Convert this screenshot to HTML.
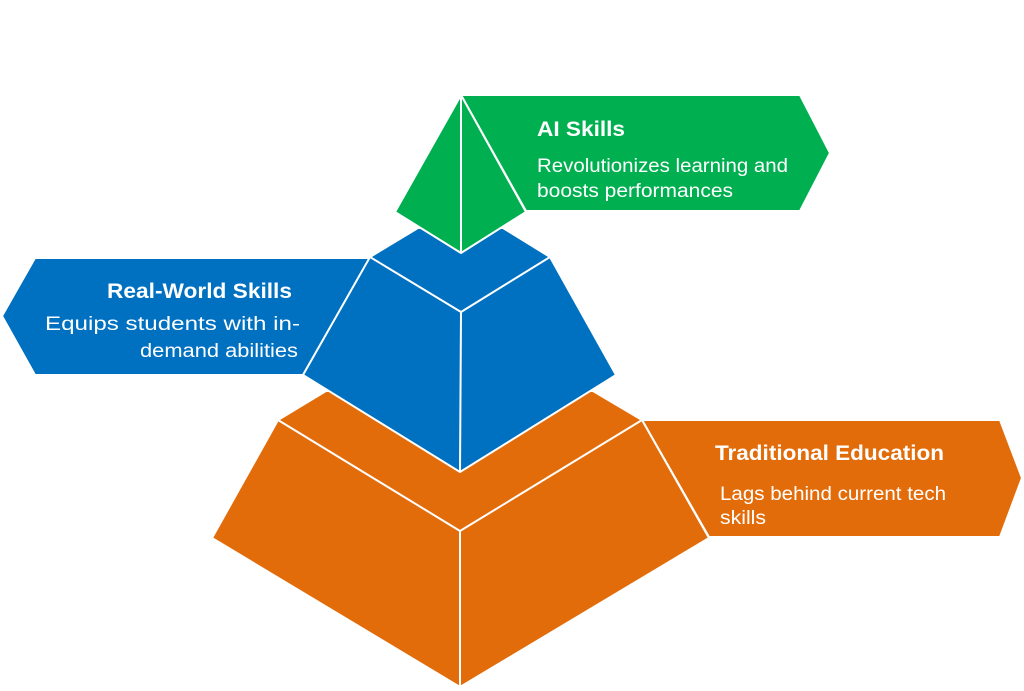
<!DOCTYPE html>
<html><head><meta charset="utf-8"><style>
html,body{margin:0;padding:0;background:#fff}
svg{display:block}
text{font-family:"Liberation Sans",Arial,sans-serif;fill:#fff}
</style></head><body>
<svg width="1024" height="691" viewBox="0 0 1024 691" xmlns="http://www.w3.org/2000/svg">
<g stroke="#fff" stroke-width="2" stroke-linejoin="round">
<polygon points="642,420 1000,420 1022,478 1000,537 709,537" fill="#e36c0a"/>
<polygon points="326,391 593,391 642,420 709,538 460,687 212,538 278,420" fill="#e36c0a"/>
<polyline points="278,420 460,531 642,420" fill="none"/>
<line x1="460" y1="531" x2="460" y2="687"/>
<polygon points="2,316 35,258 370,258 303,375 35,375" fill="#0070c0"/>
<polygon points="418,228 503,228 550,257 616,375 460,472 303,375 370,257" fill="#0070c0"/>
<polyline points="370,257 461,312 550,257" fill="none"/>
<line x1="461" y1="312" x2="460" y2="472"/>
<polygon points="461,95 800,95 830,153 800,211 526,211" fill="#00b050"/>
<polygon points="461,95 526,212 461,253 395,212" fill="#00b050"/>
<line x1="461" y1="95" x2="461" y2="253"/>
</g>
<text x="537" y="136" font-size="21" font-weight="bold" textLength="88" lengthAdjust="spacingAndGlyphs">AI Skills</text>
<text x="537" y="172" font-size="19" textLength="251" lengthAdjust="spacingAndGlyphs">Revolutionizes learning and</text>
<text x="537" y="197" font-size="19" textLength="196" lengthAdjust="spacingAndGlyphs">boosts performances</text>
<text x="107" y="298" font-size="21" font-weight="bold" textLength="185" lengthAdjust="spacingAndGlyphs">Real-World Skills</text>
<text x="45" y="330" font-size="19" textLength="255" lengthAdjust="spacingAndGlyphs">Equips students with in-</text>
<text x="140" y="357" font-size="19" textLength="158" lengthAdjust="spacingAndGlyphs">demand abilities</text>
<text x="715" y="460" font-size="21" font-weight="bold" textLength="229" lengthAdjust="spacingAndGlyphs">Traditional Education</text>
<text x="720" y="500" font-size="19" textLength="226" lengthAdjust="spacingAndGlyphs">Lags behind current tech</text>
<text x="720" y="524" font-size="19" textLength="46" lengthAdjust="spacingAndGlyphs">skills</text>
</svg>
</body></html>
